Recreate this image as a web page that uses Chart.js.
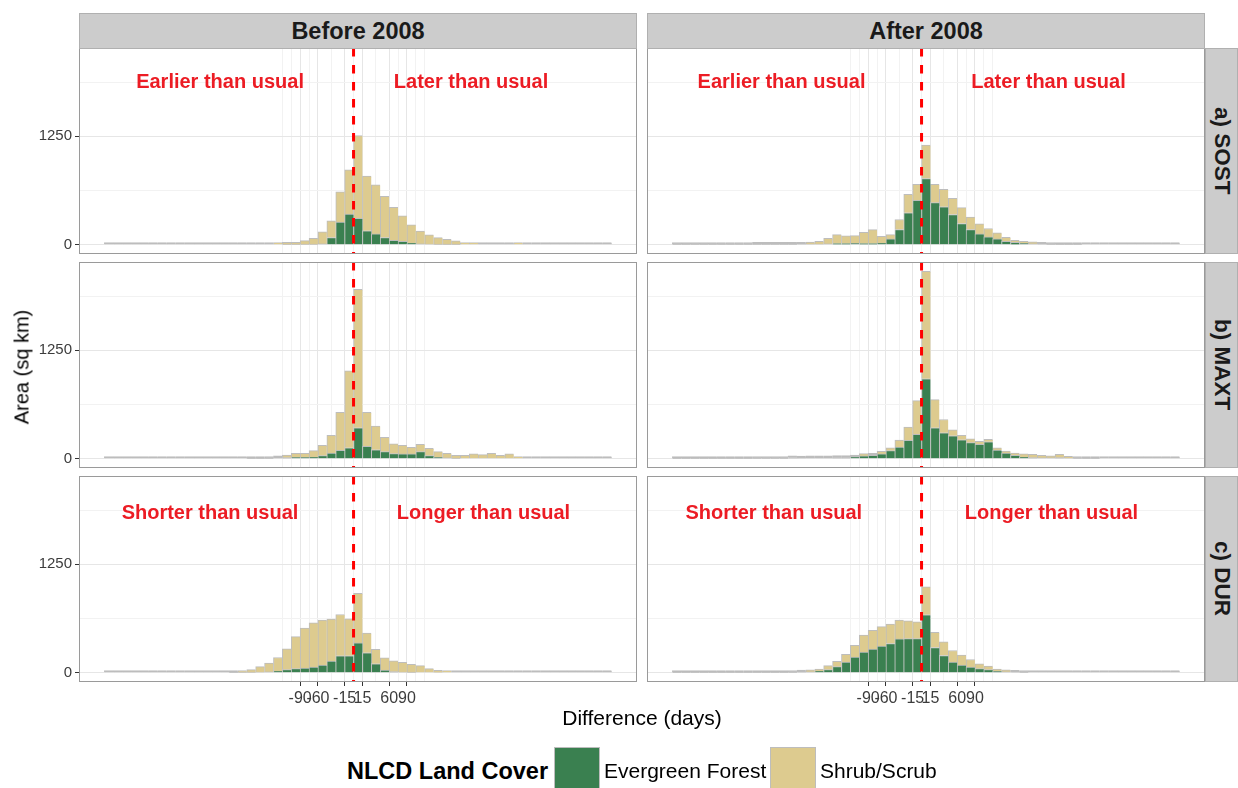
<!DOCTYPE html>
<html>
<head>
<meta charset="utf-8">
<script src="https://cdn.jsdelivr.net/npm/chart.js@4.4.1/dist/chart.umd.min.js"></script>
<style>
  body { margin: 0; background: #fff; }
  #page { position: relative; width: 1238px; height: 788px; overflow: hidden; font-family: "Liberation Sans", Arial, sans-serif; }
  canvas { position: absolute; }
  .strip { position: absolute; box-sizing: border-box; background: #cccccc; border: 1px solid #b0b0b0;
           display: flex; align-items: center; justify-content: center; font-weight: bold; font-size: 23.5px; color: #1a1a1a; }
  .strip.side { writing-mode: vertical-rl; font-size: 22.5px; }
  .title { position: absolute; color: #000; font-size: 20px; white-space: nowrap; }
  .key { position: absolute; box-sizing: border-box; border: 1px solid #bdbdbd; }
</style>
</head>
<body>
<div id="page"></div>
<script>
// 15-day histogram bins, first bin starts at -420 days
const BIN_WIDTH = 15;
const FIRST_BIN = -420;
const BIN_COUNT = 57;
const binCenters = Array.from({ length: BIN_COUNT }, (_, i) => FIRST_BIN + BIN_WIDTH * (i + 0.5));

const xMajorBreaks = [-90, -60, -15, 15, 60, 90];
const xMinorBreaks = [-120, -105, -75, -37.5, 0, 37.5, 75, 105, 120];
const yMajorBreaks = [0, 1250];
const yMinorBreaks = [625, 1875];

const columnLabels = ["Before 2008", "After 2008"];
const rowLabels = ["a) SOST", "b) MAXT", "c) DUR"];
const coverLabels = ["Evergreen Forest", "Shrub/Scrub"];

// area (sq km) per bin, forest stacked under shrub
const sostBeforeForest = [
  0, 0, 0, 0, 0, 0, 0, 0, 0, 0,
  0, 0, 0, 0, 0, 0, 0, 0, 0, 0,
  1, 1, 2, 3, 8, 81, 259, 352, 302, 159,
  124, 81, 50, 39, 19, 8, 4, 2, 1, 1,
  0, 0, 0, 0, 0, 0, 0, 0, 0, 0,
  0, 0, 0, 0, 0, 0, 0];
const sostBeforeShrub = [
  2, 2, 2, 2, 2, 2, 2, 2, 2, 3,
  3, 4, 4, 5, 5, 6, 8, 8, 10, 12,
  26, 26, 44, 71, 139, 194, 349, 511, 956, 631,
  565, 476, 380, 294, 209, 147, 108, 79, 61, 42,
  23, 15, 10, 8, 6, 6, 12, 5, 3, 3,
  2, 2, 2, 2, 2, 2, 2];
const sostAfterForest = [
  2, 2, 2, 2, 2, 2, 2, 2, 2, 3,
  3, 3, 3, 3, 4, 5, 4, 8, 12, 12,
  15, 12, 12, 19, 66, 174, 368, 511, 762, 484,
  437, 348, 244, 174, 124, 89, 66, 39, 27, 15,
  8, 4, 2, 1, 1, 1, 0, 0, 0, 0,
  0, 0, 0, 0, 0, 0, 0];
const sostAfterShrub = [
  1, 1, 1, 1, 1, 1, 1, 1, 1, 1,
  2, 3, 3, 4, 4, 14, 35, 66, 104, 89,
  89, 131, 162, 78, 50, 116, 212, 186, 387, 213,
  202, 186, 182, 143, 116, 97, 69, 46, 23, 20,
  15, 11, 6, 4, 3, 2, 2, 2, 2, 2,
  2, 2, 2, 2, 2, 2, 2];
const maxtBeforeForest = [
  0, 0, 0, 0, 0, 0, 0, 0, 0, 0,
  0, 0, 0, 0, 0, 0, 1, 1, 2, 8,
  11, 15, 15, 19, 34, 65, 96, 126, 356, 141,
  103, 80, 57, 54, 54, 80, 34, 15, 8, 2,
  0, 0, 0, 0, 0, 0, 0, 0, 0, 0,
  0, 0, 0, 0, 0, 0, 0];
const maxtBeforeShrub = [
  2, 2, 2, 2, 2, 2, 2, 2, 2, 3,
  3, 3, 4, 4, 5, 5, 5, 7, 6, 3,
  31, 46, 46, 73, 119, 203, 439, 887, 1598, 394,
  272, 165, 115, 99, 76, 84, 85, 65, 53, 36,
  38, 54, 46, 61, 38, 54, 23, 8, 5, 4,
  3, 2, 2, 2, 2, 2, 2];
const maxtAfterForest = [
  1, 1, 1, 1, 1, 1, 1, 1, 1, 2,
  2, 2, 2, 10, 6, 8, 8, 8, 11, 11,
  19, 31, 38, 54, 92, 134, 210, 279, 921, 356,
  298, 264, 218, 184, 164, 195, 99, 65, 38, 19,
  11, 8, 8, 11, 4, 2, 1, 1, 0, 0,
  0, 0, 0, 0, 0, 0, 0];
const maxtAfterShrub = [
  1, 1, 1, 1, 1, 1, 1, 1, 1, 1,
  1, 1, 1, 1, 2, 3, 3, 3, 8, 8,
  8, 26, 4, 30, 34, 80, 153, 390, 1239, 325,
  153, 69, 50, 45, 35, 27, 27, 19, 27, 35,
  39, 30, 23, 39, 15, 6, 3, 2, 2, 2,
  2, 2, 2, 2, 2, 2, 2];
const durBeforeForest = [
  0, 0, 0, 0, 0, 0, 0, 0, 0, 0,
  0, 0, 0, 0, 1, 2, 3, 4, 8, 19,
  34, 46, 53, 65, 88, 133, 194, 194, 343, 229,
  103, 30, 11, 4, 2, 0, 0, 0, 0, 0,
  0, 0, 0, 0, 0, 0, 0, 0, 0, 0,
  0, 0, 0, 0, 0, 0, 0];
const durBeforeShrub = [
  2, 2, 2, 2, 2, 2, 2, 2, 2, 2,
  2, 2, 2, 3, 7, 17, 31, 65, 102, 156,
  240, 369, 461, 510, 518, 484, 477, 427, 572, 228,
  167, 141, 126, 114, 93, 80, 46, 27, 15, 8,
  4, 3, 2, 2, 2, 2, 2, 2, 2, 2,
  2, 2, 2, 2, 2, 2, 2];
const durAfterForest = [
  1, 1, 1, 1, 1, 1, 1, 1, 1, 1,
  1, 1, 1, 2, 5, 8, 19, 34, 69, 122,
  179, 236, 271, 305, 335, 389, 392, 392, 667, 290,
  198, 122, 88, 65, 46, 34, 15, 8, 4, 2,
  0, 0, 0, 0, 0, 0, 0, 0, 0, 0,
  0, 0, 0, 0, 0, 0, 0];
const durAfterShrub = [
  1, 1, 1, 1, 1, 1, 1, 1, 1, 1,
  1, 1, 1, 1, 6, 15, 23, 46, 61, 88,
  137, 198, 217, 225, 225, 217, 206, 195, 324, 175,
  156, 133, 114, 87, 57, 42, 27, 19, 11, 6,
  4, 2, 2, 2, 2, 2, 2, 2, 2, 2,
  2, 2, 2, 2, 2, 2, 2];

const panels = [
  { row: 0, col: 0, forest: sostBeforeForest, shrub: sostBeforeShrub,
    notes: [["Earlier than usual", -225, 1875], ["Later than usual", 198, 1875]] },
  { row: 0, col: 1, forest: sostAfterForest, shrub: sostAfterShrub,
    notes: [["Earlier than usual", -236, 1875], ["Later than usual", 214, 1875]] },
  { row: 1, col: 0, forest: maxtBeforeForest, shrub: maxtBeforeShrub, notes: [] },
  { row: 1, col: 1, forest: maxtAfterForest, shrub: maxtAfterShrub, notes: [] },
  { row: 2, col: 0, forest: durBeforeForest, shrub: durBeforeShrub,
    notes: [["Shorter than usual", -242, 1840], ["Longer than usual", 219, 1840]] },
  { row: 2, col: 1, forest: durAfterForest, shrub: durAfterShrub,
    notes: [["Shorter than usual", -249, 1840], ["Longer than usual", 219, 1840]] },
];

// page layout
const FONT = '"Liberation Sans", Arial, sans-serif';
const PANEL_W = 558, PANEL_H = 206;
const colLeft = [79, 647];
const rowTop = [48, 262, 476];
const Y_AXIS_W = 50, X_AXIS_H = 30;

const FOREST_FILL = "#3a8050";
const SHRUB_FILL = "#ddcb8f";
const BAR_EDGE = "#bdbdbd";
const NOTE_RED = "#ec1c24";
// bars thinner than their own outline show only the outline colour
const OUTLINE_ONLY_BELOW = 12;

// shared scales with 5% padding, like the facetted original
const xSpan = BIN_COUNT * BIN_WIDTH;
const xMin = FIRST_BIN - 0.05 * xSpan;
const xMax = FIRST_BIN + xSpan + 0.05 * xSpan;
const tallest = Math.max(...panels.map(p => Math.max(...p.forest.map((v, i) => v + p.shrub[i]))));
const yMin = -0.05 * tallest;
const yMax = 1.05 * tallest;

const page = document.getElementById("page");

function addDiv(cls, text, style) {
  const d = document.createElement("div");
  d.className = cls;
  d.textContent = text;
  Object.assign(d.style, style);
  page.appendChild(d);
  return d;
}

function makeDecor(notes) {
  return {
    id: "panelDecor",
    afterDatasetsDraw(chart) {
      const { ctx, chartArea: a, scales: { x, y } } = chart;
      ctx.save();
      ctx.beginPath();
      ctx.rect(a.left, a.top, a.width, a.height);
      ctx.clip();
      // zero-difference reference line
      const x0 = x.getPixelForValue(0);
      ctx.strokeStyle = "#ff0000";
      ctx.lineWidth = 3;
      ctx.setLineDash([8.5, 8.5]);
      ctx.beginPath();
      ctx.moveTo(x0, a.top);
      ctx.lineTo(x0, a.bottom);
      ctx.stroke();
      ctx.setLineDash([]);
      ctx.fillStyle = NOTE_RED;
      ctx.font = "bold 20px " + FONT;
      ctx.textAlign = "center";
      ctx.textBaseline = "middle";
      notes.forEach(([text, vx, vy]) => ctx.fillText(text, x.getPixelForValue(vx), y.getPixelForValue(vy)));
      ctx.restore();
      // panel border
      ctx.save();
      ctx.strokeStyle = "#9a9a9a";
      ctx.lineWidth = 1;
      ctx.strokeRect(a.left + 0.5, a.top + 0.5, a.width - 1, a.height - 1);
      ctx.restore();
    },
  };
}

const gridColor = (majors) => (c) => majors.includes(c.tick.value) ? "#e6e6e6" : "#f2f2f2";
const tickColor = (majors) => (c) => majors.includes(c.tick.value) ? "#333333" : "rgba(0,0,0,0)";
const barFill = (fill) => (c) => (c.raw && c.raw.y < OUTLINE_ONLY_BELOW) ? BAR_EDGE : fill;

panels.forEach((p) => {
  const leftCol = p.col === 0;
  const bottomRow = p.row === 2;
  const w = PANEL_W + (leftCol ? Y_AXIS_W : 0);
  const h = PANEL_H + (bottomRow ? X_AXIS_H : 0);
  const canvas = document.createElement("canvas");
  canvas.width = w;
  canvas.height = h;
  canvas.style.width = w + "px";
  canvas.style.height = h + "px";
  canvas.style.left = (colLeft[p.col] - (leftCol ? Y_AXIS_W : 0)) + "px";
  canvas.style.top = rowTop[p.row] + "px";
  page.appendChild(canvas);

  const barStyle = {
    borderColor: BAR_EDGE,
    borderWidth: { top: 1, left: 1, right: 0, bottom: 0 },
    borderSkipped: false,
    barPercentage: 1,
    categoryPercentage: 1,
  };

  new Chart(canvas.getContext("2d"), {
    type: "bar",
    data: {
      datasets: [
        { label: coverLabels[0], data: binCenters.map((x, i) => ({ x, y: p.forest[i] })),
          backgroundColor: barFill(FOREST_FILL), ...barStyle },
        { label: coverLabels[1], data: binCenters.map((x, i) => ({ x, y: p.shrub[i] })),
          backgroundColor: barFill(SHRUB_FILL), minBarLength: 2, ...barStyle },
      ],
    },
    options: {
      responsive: false,
      animation: false,
      events: [],
      layout: { padding: 0 },
      plugins: { legend: { display: false }, tooltip: { enabled: false } },
      scales: {
        x: {
          type: "linear",
          min: xMin,
          max: xMax,
          stacked: true,
          offset: false,
          afterBuildTicks: (s) => { s.ticks = [...xMajorBreaks, ...xMinorBreaks].sort((a, b) => a - b).map(v => ({ value: v })); },
          afterFit: (s) => { s.height = bottomRow ? X_AXIS_H : 0; s.paddingLeft = 0; s.paddingRight = 0; },
          border: { display: false },
          grid: { offset: false, color: gridColor(xMajorBreaks), lineWidth: 1,
                  drawTicks: bottomRow, tickLength: 4, tickWidth: 1, tickColor: tickColor(xMajorBreaks) },
          ticks: { display: bottomRow, autoSkip: false, minRotation: 0, maxRotation: 0, padding: 3,
                   color: "#3c3c3c", font: { family: FONT, size: 16 },
                   callback: (v) => xMajorBreaks.includes(v) ? String(v) : "" },
        },
        y: {
          type: "linear",
          min: yMin,
          max: yMax,
          stacked: true,
          afterBuildTicks: (s) => { s.ticks = [...yMajorBreaks, ...yMinorBreaks].sort((a, b) => a - b).map(v => ({ value: v })); },
          afterFit: (s) => { s.width = leftCol ? Y_AXIS_W : 0; s.paddingTop = 0; s.paddingBottom = 0; },
          border: { display: false },
          grid: { color: gridColor(yMajorBreaks), lineWidth: 1,
                  drawTicks: leftCol, tickLength: 4, tickWidth: 1, tickColor: tickColor(yMajorBreaks) },
          ticks: { display: leftCol, padding: 3, color: "#3c3c3c", font: { family: FONT, size: 15 },
                   callback: (v) => yMajorBreaks.includes(v) ? String(v) : "" },
        },
      },
    },
    plugins: [makeDecor(p.notes)],
  });
});

// facet strips
columnLabels.forEach((t, c) => addDiv("strip", t, { left: colLeft[c] + "px", top: "13px", width: PANEL_W + "px", height: "36px" }));
rowLabels.forEach((t, r) => addDiv("strip side", t, { left: (colLeft[1] + PANEL_W) + "px", top: rowTop[r] + "px", width: "33px", height: PANEL_H + "px" }));

// axis titles
addDiv("title", "Difference (days)", { left: "642px", top: "718px", transform: "translate(-50%, -50%)", fontSize: "21px" });
addDiv("title", "Area (sq km)", { left: "22px", top: "367px", transform: "translate(-50%, -50%) rotate(-90deg)" });

// legend
addDiv("title", "NLCD Land Cover", { left: "347px", top: "771px", transform: "translateY(-50%)", fontWeight: "bold", fontSize: "23.5px" });
const keyLeft = [554, 770];
const labelLeft = [604, 820];
[FOREST_FILL, SHRUB_FILL].forEach((fill, i) => {
  addDiv("key", "", { left: keyLeft[i] + "px", top: "747px", width: "46px", height: "46px", background: fill });
  addDiv("title", coverLabels[i], { left: labelLeft[i] + "px", top: "771px", transform: "translateY(-50%)", fontSize: "21px" });
});
</script>
</body>
</html>
